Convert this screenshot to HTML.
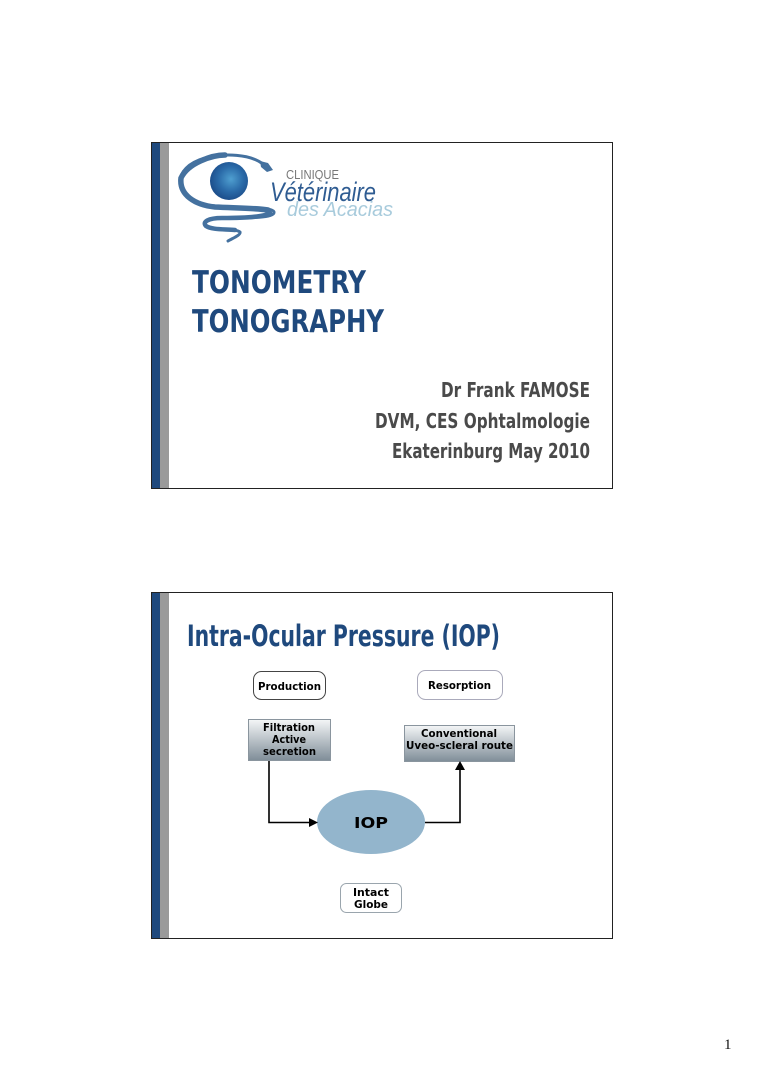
<!DOCTYPE html>
<html><head><meta charset="utf-8"><style>html,body{margin:0;padding:0;background:#fff}svg{display:block}</style></head>
<body>
<svg xmlns="http://www.w3.org/2000/svg" width="768" height="1082" viewBox="0 0 768 1082">
<defs>
<linearGradient id="g" x1="0" y1="0" x2="0" y2="1"><stop offset="0" stop-color="#f4f6f7"/><stop offset="1" stop-color="#7f8d98"/></linearGradient>
<radialGradient id="b" cx="0.55" cy="0.45" r="0.55"><stop offset="0" stop-color="#4f9fd0"/><stop offset="0.6" stop-color="#2a6aa8"/><stop offset="1" stop-color="#1d4f8c"/></radialGradient>
</defs>
<rect width="768" height="1082" fill="#fff"/>

<!-- slide 1 -->
<rect x="152" y="142" width="8" height="346" fill="#1f497d"/>
<rect x="160" y="142" width="9" height="346" fill="#9a9a9a"/>
<rect x="151.5" y="142.500" width="461" height="346" fill="none" stroke="#222" stroke-width="1"/>
<circle cx="229" cy="181" r="19" fill="url(#b)"/>
<path d="M263 164 C250 154 225 153 205 158 C188 163 180 172 180 182 C180 196 195 205 215 207 C240 209 272 206 274 212 C275 218 250 218 225 218 C208 218 202 222 206 226 C212 231 235 228 240 232 C241 235 233 238 228 241" fill="none" stroke="#44719f" stroke-width="3" stroke-linecap="round"/>
<path d="M225 155 C212 155 188 163 181 178 C179 195 195 205 215 207 C235 208 255 208 268 210" fill="none" stroke="#44719f" stroke-width="5.500" stroke-linecap="round"/>
<path d="M270 213 C262 218 235 218 222 218 C208 218 202 222 206 226 C212 230 225 229 235 230" fill="none" stroke="#44719f" stroke-width="4.500" stroke-linecap="round"/>
<path d="M260 161 L268 163 L273 170 L267 172 L261 167 Z" fill="#44719f"/>
<text x="286" y="179" font-family="Liberation Sans,sans-serif" font-size="13" fill="#777" textLength="53" lengthAdjust="spacingAndGlyphs">CLINIQUE</text>
<text x="270" y="201" font-family="Liberation Sans,sans-serif" font-style="italic" font-size="27" fill="#2f5c92" textLength="106" lengthAdjust="spacingAndGlyphs">Vétérinaire</text>
<text x="287" y="216" font-family="Liberation Sans,sans-serif" font-style="italic" font-size="20" fill="#a8cbdc" textLength="106" lengthAdjust="spacingAndGlyphs">des Acacias</text>

<g font-family="DejaVu Sans,sans-serif" font-weight="bold" fill="#1f497d" font-size="31">
<text x="192" y="293" textLength="174" lengthAdjust="spacingAndGlyphs">TONOMETRY</text>
<text x="192" y="332" textLength="192" lengthAdjust="spacingAndGlyphs">TONOGRAPHY</text>
</g>
<g font-family="DejaVu Sans,sans-serif" font-weight="bold" fill="#4a4a4a" font-size="20">
<text x="441" y="397" textLength="149" lengthAdjust="spacingAndGlyphs">Dr Frank FAMOSE</text>
<text x="375" y="428" textLength="215" lengthAdjust="spacingAndGlyphs">DVM, CES Ophtalmologie</text>
<text x="392" y="458" textLength="198" lengthAdjust="spacingAndGlyphs">Ekaterinburg May 2010</text>
</g>

<!-- slide 2 -->
<rect x="152" y="593" width="8" height="345" fill="#1f497d"/>
<rect x="160" y="593" width="9" height="345" fill="#9a9a9a"/>
<rect x="151.5" y="592.5" width="461" height="346" fill="none" stroke="#222" stroke-width="1"/>
<text x="187" y="646" font-family="DejaVu Sans,sans-serif" font-weight="bold" fill="#1f497d" font-size="29" textLength="313" lengthAdjust="spacingAndGlyphs">Intra-Ocular Pressure (IOP)</text>

<rect x="253.5" y="671.5" width="72" height="28" rx="8" fill="#fff" stroke="#444"/>
<rect x="417.5" y="670.5" width="85" height="29" rx="8" fill="#fff" stroke="#aab"/>
<rect x="248.5" y="719.5" width="82" height="41" fill="url(#g)" stroke="#8a959e"/>
<rect x="404.5" y="725.5" width="110" height="36" fill="url(#g)" stroke="#8a959e"/>
<ellipse cx="371" cy="822" rx="54" ry="32" fill="#93b5cc"/>
<rect x="340.5" y="883.5" width="61" height="29" rx="6" fill="#fff" stroke="#9aa5ad"/>

<g fill="none" stroke="#000" stroke-width="1.6">
<path d="M269 761 V822.5 H310"/>
<path d="M425 822.5 H460 V768"/>
</g>
<path d="M318 822.5 L309 818 V827 Z" fill="#000"/>
<path d="M460 761 L455 770 H465 Z" fill="#000"/>

<g font-family="DejaVu Sans,sans-serif" font-weight="bold" fill="#000" font-size="10.5">
<text x="258" y="690" textLength="63" lengthAdjust="spacingAndGlyphs">Production</text>
<text x="428" y="689" textLength="63" lengthAdjust="spacingAndGlyphs">Resorption</text>
<text x="263" y="731" textLength="52" lengthAdjust="spacingAndGlyphs">Filtration</text>
<text x="272" y="743" textLength="34" lengthAdjust="spacingAndGlyphs">Active</text>
<text x="263" y="755" textLength="53" lengthAdjust="spacingAndGlyphs">secretion</text>
<text x="421" y="737" textLength="76" lengthAdjust="spacingAndGlyphs">Conventional</text>
<text x="406" y="749" textLength="107" lengthAdjust="spacingAndGlyphs">Uveo-scleral route</text>
<text x="354" y="828" font-size="15" textLength="34" lengthAdjust="spacingAndGlyphs">IOP</text>
<text x="353" y="896" textLength="36" lengthAdjust="spacingAndGlyphs">Intact</text>
<text x="354" y="908" textLength="34" lengthAdjust="spacingAndGlyphs">Globe</text>
</g>

<text x="724" y="1049" font-family="Liberation Serif,serif" font-size="15" fill="#111">1</text>
</svg>
</body></html>
